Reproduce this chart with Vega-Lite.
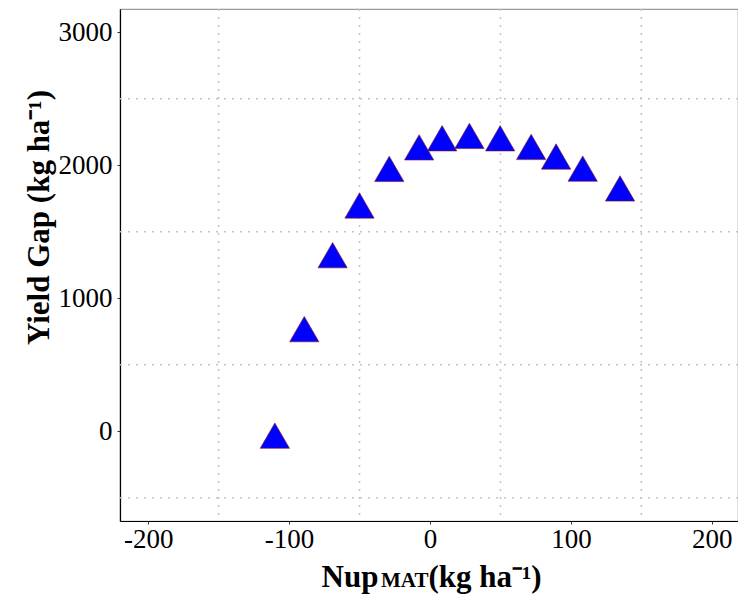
{
  "$schema": "https://vega.github.io/schema/vega-lite/v6.json",
  "autosize": {"type": "none"},
  "width": 618,
  "height": 512,
  "padding": {"left": 120, "top": 9, "right": 0, "bottom": 75},
  "background": "white",
  "config": {
    "view": {"stroke": "#9a9a9a", "strokeWidth": 1.2},
    "axis": {
      "labelFont": "Liberation Serif",
      "labelFontSize": 27,
      "labelColor": "black",
      "titleFont": "Liberation Serif",
      "titleFontSize": 31,
      "titleFontWeight": "bold",
      "titleColor": "black",
      "domainColor": "black",
      "domainWidth": 1.2,
      "tickColor": "#333333",
      "tickSize": 3,
      "grid": false
    }
  },
  "title": {
    "text": "MAT",
    "orient": "bottom",
    "anchor": "start",
    "frame": "group",
    "font": "Liberation Serif",
    "fontSize": 21,
    "fontWeight": "bold",
    "color": "black",
    "align": "left",
    "dx": 261,
    "dy": -26
  },
  "datasets": {
    "pts": [
      {"x": -110.1, "y": -65},
      {"x": -89.2, "y": 736},
      {"x": -69.1, "y": 1292},
      {"x": -50.0, "y": 1666},
      {"x": -28.9, "y": 1941},
      {"x": -7.7, "y": 2103},
      {"x": 8.6, "y": 2171},
      {"x": 28.0, "y": 2189},
      {"x": 49.8, "y": 2171},
      {"x": 71.8, "y": 2106},
      {"x": 89.5, "y": 2034},
      {"x": 108.4, "y": 1943},
      {"x": 134.9, "y": 1794}
    ],
    "vgrid": [{"gx": -150}, {"gx": -50}, {"gx": 50}, {"gx": 150}],
    "hgrid": [{"gy": -500}, {"gy": 500}, {"gy": 1500}, {"gy": 2500}]
  },
  "resolve": {"scale": {"x": "independent"}, "axis": {"x": "independent"}},
  "layer": [
    {
      "data": {"name": "vgrid"},
      "mark": {"type": "rule", "color": "#c4c4c4", "strokeWidth": 1.5, "strokeDash": [2, 6]},
      "encoding": {
        "x": {"field": "gx", "type": "quantitative", "scale": {"domain": [-220, 218.6], "nice": false, "zero": false},
          "axis": {
            "orient": "bottom",
            "values": [-200, -100, 0, 100, 200],
            "format": "d",
            "labelExpr": "replace(datum.label, '\u2212', '-')",
            "title": "Nup",
            "titleAlign": "left",
            "titleAnchor": "start",
            "titleBaseline": "alphabetic",
            "titleY": 65,
            "titleX": 201,
            "labelPadding": 2
          }
        }
      }
    },
    {
      "data": {"name": "hgrid"},
      "mark": {"type": "rule", "color": "#c4c4c4", "strokeWidth": 1.5, "strokeDash": [2, 6]},
      "encoding": {
        "y": {"field": "gy", "type": "quantitative", "scale": {"domain": [-675, 3175], "nice": false, "zero": false},
          "axis": {
            "values": [0, 1000, 2000, 3000],
            "format": "d",
            "labelExpr": "replace(datum.label, '\u2212', '-')",
            "title": "Yield Gap (kg ha\u207b\u00b9)",
            "titleBaseline": "alphabetic",
            "titleAngle": -90,
            "titleX": -72,
            "titleY": 208,
            "labelPadding": 5
          }
        }
      }
    },
    {
      "data": {"name": "pts"},
      "mark": {
        "type": "point",
        "shape": "M0,-1L0.866,0.5L-0.866,0.5Z",
        "size": 1145,
        "filled": true,
        "fill": "#0000ff",
        "fillOpacity": 1,
        "stroke": "#8b1a1a",
        "strokeWidth": 0.6,
        "opacity": 1
      },
      "encoding": {
        "x": {"field": "x", "type": "quantitative", "scale": {"domain": [-220, 218.6], "nice": false, "zero": false},
          "axis": {
            "orient": "bottom",
            "labels": false,
            "ticks": false,
            "domain": false,
            "grid": false,
            "title": "(kg ha\u207b\u00b9)",
            "titleAlign": "left",
            "titleAnchor": "start",
            "titleBaseline": "alphabetic",
            "titleY": 65,
            "titleX": 308
          }
        },
        "y": {"field": "y", "type": "quantitative"}
      }
    }
  ]
}
